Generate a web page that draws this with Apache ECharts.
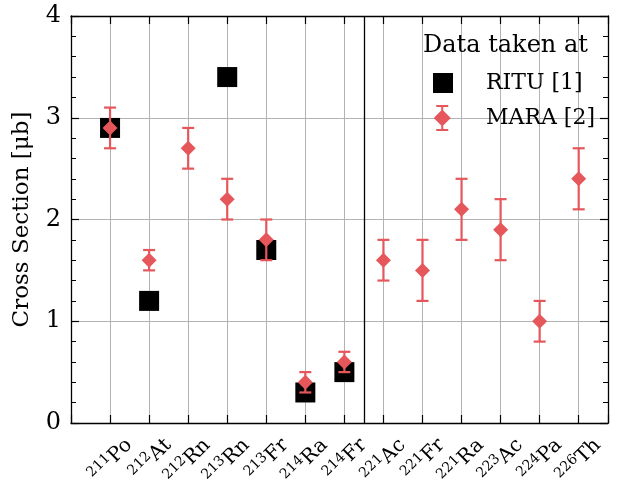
<!DOCTYPE html>
<html>
<head>
<meta charset="utf-8">
<script src="https://cdn.jsdelivr.net/npm/echarts@6/dist/echarts.min.js"></script>
<style>
html,body{margin:0;padding:0;background:#fff;}
#chart{width:617px;height:498px;}
</style>
</head>
<body>
<div id="chart"></div>
<script>
// ---- data ----
const massNumbers = ['211','212','212','213','213','214','214','221','221','221','223','224','226'];
const elements    = ['Po','At','Rn','Rn','Fr','Ra','Fr','Ac','Fr','Ra','Ac','Pa','Th'];
const rituValues  = [2.9, 1.2, null, 3.4, 1.7, 0.3, 0.5, null, null, null, null, null, null];
const maraValues  = [2.9, 1.6, 2.7, 2.2, 1.8, 0.4, 0.6, 1.6, 1.5, 2.1, 1.9, 1.0, 2.4];
const maraErrors  = [0.2, 0.1, 0.2, 0.2, 0.2, 0.1, 0.1, 0.2, 0.3, 0.3, 0.3, 0.2, 0.3];
const lastGroupOneIndex = 6; // 214Fr: separator drawn after it
const yTickValues = [0, 1, 2, 3, 4];

// ---- styling ----
const FONT = 'DejaVu Serif';
const RED = '#e5575b';
const GRID = '#b3b3b3';
const positions = massNumbers.map((_, i) => i + 1);

const rituData = [];
positions.forEach((x, i) => { if (rituValues[i] !== null) rituData.push([x, rituValues[i]]); });
const maraData = positions.map((x, i) => [x, maraValues[i]]);
const maraErrData = positions.map((x, i) => [x, maraValues[i], maraErrors[i]]);
const labelData = positions.map((x, i) => ({value: [x, yTickValues[0]], mass: massNumbers[i], el: elements[i]}));
const separatorX = (positions[lastGroupOneIndex] + positions[lastGroupOneIndex + 1]) / 2;

const chart = echarts.init(document.getElementById('chart'), null, {renderer: 'canvas'});

const xCommon = {
  type: 'value', min: 0, max: 13.75, interval: 1
};

chart.setOption({
  animation: false,
  backgroundColor: '#fff',
  textStyle: {fontFamily: FONT, color: '#000'},
  grid: {left: 71, right: 9, top: 16, bottom: 75, containLabel: false},
  title: {
    text: 'Data taken at', left: 423, top: 34, padding: 0,
    textStyle: {fontFamily: FONT, fontSize: 24, fontWeight: 'normal', color: '#000'}
  },
  legend: {
    orient: 'vertical', left: 433, top: 70, padding: 0, itemGap: 9,
    itemWidth: 48, itemHeight: 26,
    textStyle: {fontFamily: FONT, fontSize: 22, color: '#000'},
    data: [
      {name: 'RITU [1]', icon: 'path://M0,0L0,0M0,3L20,3L20,23L0,23ZM48,26L48,26'},
      {name: 'MARA [2]', icon: 'path://M4,0L16,0L16,2L11,2L11,24L16,24L16,26L4,26L4,24L9,24L9,2L4,2ZM10,4.5L18.5,13L10,21.5L1.5,13ZM48,26L48,26'}
    ],
    selectedMode: false
  },
  xAxis: [
    Object.assign({}, xCommon, {
      position: 'bottom',
      axisLine: {show: true, onZero: false, lineStyle: {color: '#000', width: 1.3}},
      axisTick: {show: true, inside: true, length: 8, lineStyle: {color: '#000', width: 1.2}},
      splitLine: {show: true, lineStyle: {color: GRID, width: 1}},
      axisLabel: {show: false}
    }),
    Object.assign({}, xCommon, {
      position: 'top',
      axisLine: {show: true, onZero: false, lineStyle: {color: '#000', width: 1.3}},
      axisTick: {show: true, inside: true, length: 8, lineStyle: {color: '#000', width: 1.2}},
      splitLine: {show: false},
      axisLabel: {show: false}
    })
  ],
  yAxis: [
    {
      type: 'value', min: yTickValues[0], max: yTickValues[yTickValues.length - 1], interval: 1,
      position: 'left',
      name: 'Cross Section [μb]', nameLocation: 'middle', nameGap: 37,
      nameTextStyle: {fontFamily: FONT, fontSize: 23, color: '#000'},
      axisLine: {show: true, onZero: false, lineStyle: {color: '#000', width: 1.3}},
      axisTick: {show: true, inside: true, length: 8, lineStyle: {color: '#000', width: 1.2}},
      minorTick: {show: true, splitNumber: 5, length: 5, lineStyle: {color: '#000', width: 1}},
      splitLine: {show: true, lineStyle: {color: GRID, width: 1}},
      axisLabel: {show: true, margin: 10, fontFamily: FONT, fontSize: 24, color: '#000'}
    },
    {
      type: 'value', min: yTickValues[0], max: yTickValues[yTickValues.length - 1], interval: 1,
      position: 'right',
      axisLine: {show: true, onZero: false, lineStyle: {color: '#000', width: 1.3}},
      axisTick: {show: true, inside: true, length: 8, lineStyle: {color: '#000', width: 1.2}},
      minorTick: {show: true, splitNumber: 5, length: 5, lineStyle: {color: '#000', width: 1}},
      splitLine: {show: false},
      axisLabel: {show: false}
    }
  ],
  series: [
    {
      name: 'RITU [1]', type: 'scatter', xAxisIndex: 0, yAxisIndex: 0,
      symbol: 'rect', symbolSize: 20,
      itemStyle: {color: '#000', opacity: 1},
      data: rituData,
      markLine: {
        silent: true, symbol: 'none', label: {show: false},
        lineStyle: {color: '#000', width: 1.3, type: 'solid'},
        data: [{xAxis: separatorX}]
      }
    },
    {
      name: 'MARA [2]', type: 'scatter', xAxisIndex: 0, yAxisIndex: 0,
      symbol: 'diamond', symbolSize: 15,
      itemStyle: {color: RED, opacity: 1},
      data: maraData, z: 3
    },
    {
      name: 'MARA errors', type: 'custom', xAxisIndex: 0, yAxisIndex: 0,
      data: maraErrData, encode: {x: 0, y: 1}, z: 3,
      itemStyle: {color: RED},
      renderItem: function (params, api) {
        const x = api.value(0), v = api.value(1), e = api.value(2);
        const top = api.coord([x, v + e]);
        const bot = api.coord([x, v - e]);
        const hw = 6;
        const st = {stroke: RED, lineWidth: 2.2, fill: null};
        return {
          type: 'group',
          children: [
            {type: 'line', shape: {x1: top[0], y1: top[1], x2: bot[0], y2: bot[1]}, style: st},
            {type: 'line', shape: {x1: top[0] - hw, y1: top[1], x2: top[0] + hw, y2: top[1]}, style: st},
            {type: 'line', shape: {x1: bot[0] - hw, y1: bot[1], x2: bot[0] + hw, y2: bot[1]}, style: st}
          ]
        };
      }
    },
    {
      name: 'nuclide labels', type: 'custom', xAxisIndex: 0, yAxisIndex: 0,
      data: labelData.map(d => d.value), encode: {x: 0, y: 1}, z: 5, silent: true, clip: false,
      renderItem: function (params, api) {
        const p = api.coord([api.value(0), api.value(1)]);
        const i = params.dataIndex;
        return {
          type: 'text',
          x: p[0], y: p[1],
          rotation: Math.PI / 4,
          style: {
            text: '{s|' + massNumbers[i] + '}{e|' + elements[i] + '}',
            x: 0, y: 27,
            align: 'right', verticalAlign: 'middle',
            rich: {
              s: {fontFamily: FONT, fontSize: 14, lineHeight: 13, verticalAlign: 'top', fill: '#000'},
              e: {fontFamily: FONT, fontSize: 20, lineHeight: 24, fill: '#000'}
            }
          }
        };
      }
    }
  ]
});
</script>
</body>
</html>
